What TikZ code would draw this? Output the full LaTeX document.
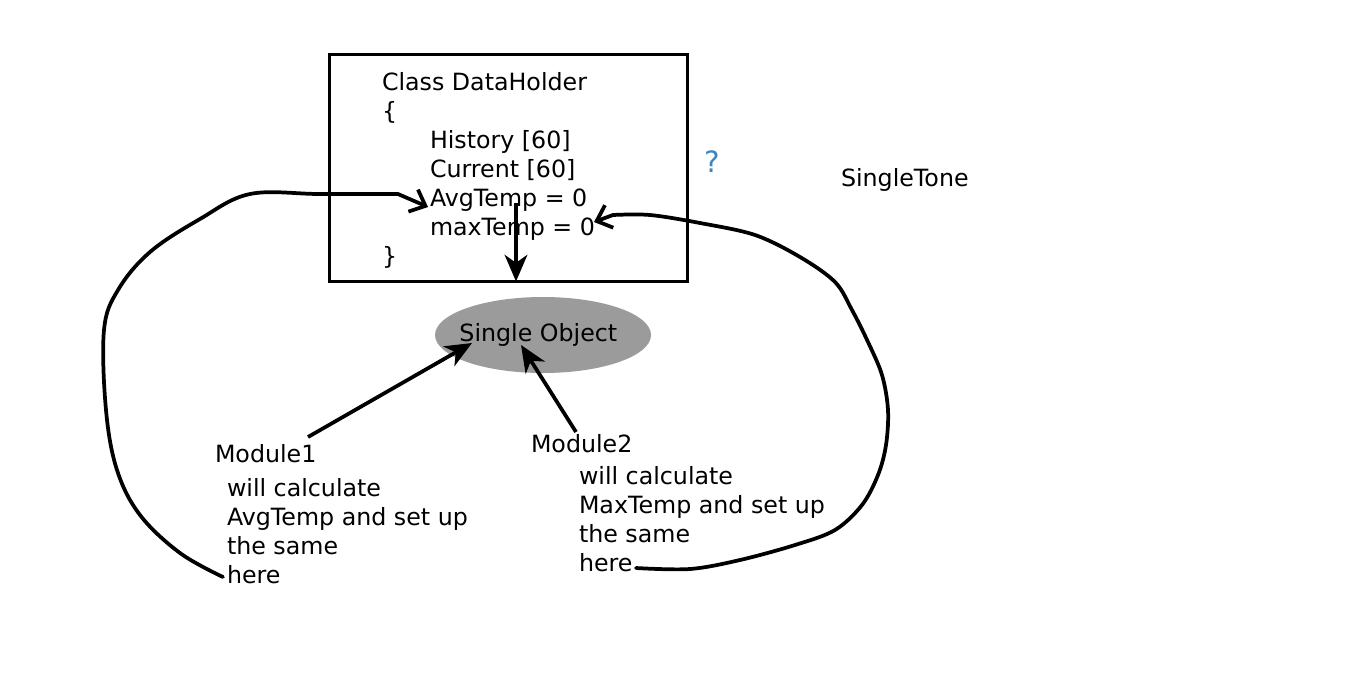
\documentclass[tikz,border=0pt]{standalone}
\usepackage{fontspec}
\setmainfont{DejaVu Sans}
\usetikzlibrary{arrows.meta,shapes.geometric}
\definecolor{objgray}{RGB}{155,155,155}
\definecolor{qblue}{RGB}{61,133,198}
\begin{document}
\begin{tikzpicture}[x=0.75pt,y=-0.75pt,
  every node/.style={font=\fontsize{17.8}{21.75}\selectfont, inner sep=0pt, outer sep=0pt},
  txt/.style={align=left, anchor=north west},
  lbl/.style={anchor=base west},
  arr/.style={line width=2.8pt, -{Stealth[length=20pt,width=17pt,inset=6pt]}},
  loop/.style={line width=2.8pt, line cap=round, line join=round, -{Straight Barb[length=10pt,width=18pt]}}]
\useasboundingbox (0,0) rectangle (1366,697);
\fill[white] (0,0) rectangle (1366,697);

% class box
\node[draw, line width=2.8pt, minimum width=268.5pt, minimum height=170.25pt] (box) at (508.5,168) {};
\node[txt] (cls) at (382,72) {Class DataHolder\\\{\\\hspace*{36pt}History [60]\\\hspace*{36pt}Current [60]\\\hspace*{36pt}AvgTemp = 0\\\hspace*{36pt}maxTemp = 0\\\}};

\node[lbl, text=qblue, font=\fontsize{22}{24}\selectfont] (q) at (704,172) {?};
\node[lbl] (st) at (841,186) {SingleTone};

% single object
\node[ellipse, fill=objgray, minimum width=162pt, minimum height=57pt] (obj) at (543,335) {\makebox[0pt]{Single Object\hspace*{7pt}}};

% modules
\node[lbl] (mod1) at (215,462) {Module1};
\node[txt] (desc1) at (227,478) {will calculate\\AvgTemp and set up\\the same\\here};
\node[lbl] (mod2) at (531,452) {Module2};
\node[txt] (desc2) at (579,466) {will calculate\\MaxTemp and set up\\the same\\here};

% straight arrows
\coordinate (a0) at (516,203);
\draw[arr] (a0) -- (a0 |- box.south);
\coordinate (m1a) at (308,437);
\coordinate (m1b) at (472,343);
\draw[arr] (m1a) -- (m1b);
\coordinate (m2a) at (576,432);
\coordinate (m2b) at (521,345);
\draw[arr] (m2a) -- (m2b);

% freehand loops
\coordinate (h1) at (223,577);
\coordinate (avg) at (428,207);
\draw[loop] plot[smooth, tension=0.6] coordinates {(h1) (180,553) (140,515) (117,470) (106,410) (104,330) (118,290) (150,252) (200,219) (250,194) (320,194) (398,194)} -- (avg);

\coordinate (h2) at (636,568);
\coordinate (mx) at (594,222);
\draw[loop] plot[smooth, tension=0.55] coordinates {(h2) (690,569) (740,560) (795,545) (835,530) (862,505) (878,475) (886,445) (888,410) (882,375) (868,342) (852,310) (835,282) (800,257) (755,235) (700,223) (650,215) (613,215)} -- (mx);
\end{tikzpicture}
\end{document}
